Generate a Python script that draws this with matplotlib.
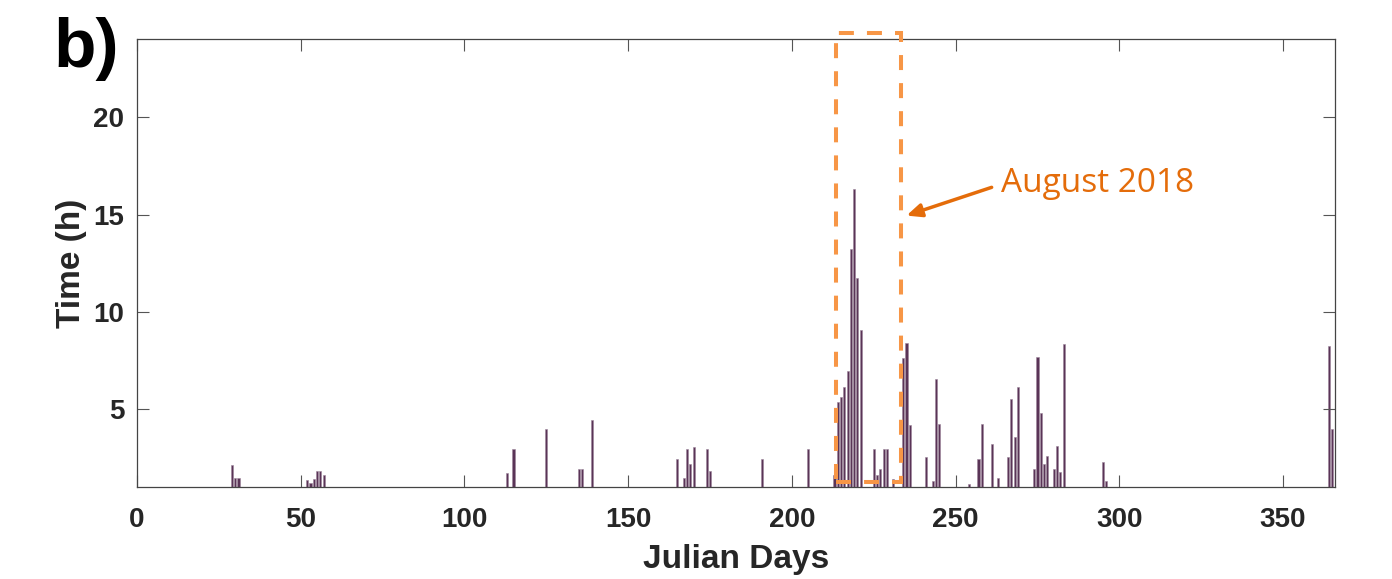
import matplotlib
matplotlib.use("Agg")
import matplotlib.pyplot as plt
from matplotlib.patches import Rectangle

days = [29, 30, 31, 52, 53, 54, 55, 56, 57, 113, 115, 125, 135, 136, 139,
        165, 167, 168, 169, 170, 174, 175, 191, 205, 213, 214, 215, 216, 217,
        218, 219, 220, 221, 225, 226, 227, 228, 229, 231, 234, 235, 236, 241,
        243, 244, 245, 254, 257, 258, 261, 263, 266, 267, 268, 269, 274, 275,
        276, 277, 278, 280, 281, 282, 283, 295, 296, 364, 365]
hours = [2.13, 1.46, 1.46, 1.36, 1.22, 1.44, 1.86, 1.82, 1.61, 1.72, 2.97,
         3.97, 1.96, 1.96, 4.46, 2.47, 1.46, 2.97, 2.21, 3.06, 2.97, 1.82,
         2.47, 2.97, 1.61, 5.39, 5.62, 6.13, 6.99, 13.25, 16.34, 11.75, 9.09,
         2.95, 1.61, 1.96, 2.95, 2.95, 1.42, 7.66, 8.40, 4.19, 2.53, 1.30,
         6.56, 4.26, 1.19, 2.47, 4.23, 3.21, 1.46, 2.53, 5.51, 3.56, 6.13,
         1.96, 7.71, 4.83, 2.21, 2.63, 1.92, 3.11, 1.77, 8.35, 2.30, 1.30,
         8.23, 3.97]
x_ticks = [0, 50, 100, 150, 200, 250, 300, 350]
y_ticks = [5, 10, 15, 20]
box_x = [213.5, 233.2]
box_y = [1.27, 24.3]

plt.rcParams['font.family'] = ['Liberation Sans', 'DejaVu Sans']

fig = plt.figure(figsize=(13.92, 5.79), dpi=100)
ax = fig.add_axes([0.0984, 0.1584, 0.9594 - 0.0984, 0.9321 - 0.1584])

ax.bar(days, hours, width=0.65, color='#5a3457', edgecolor='#9c859b',
       linewidth=0.4)

ax.set_xlim(0, 366)
ax.set_ylim(1, 24)
ax.set_xticks(x_ticks)
ax.set_yticks(y_ticks)
ax.tick_params(direction='in', length=8.6, width=0.8, color='#555555',
               labelsize=20, top=True, right=True,
               labelcolor='#262626')
ax.tick_params(axis='x', pad=14)
ax.tick_params(axis='y', pad=9)
for lbl in ax.get_xticklabels() + ax.get_yticklabels():
    lbl.set_fontweight('bold')
for s in ax.spines.values():
    s.set_color('#444444')
    s.set_linewidth(0.9)

ax.set_xlabel('Julian Days', fontsize=24, fontweight='bold', color='#262626',
              labelpad=8)
ax.set_ylabel('Time (h)', fontsize=24, fontweight='bold', color='#262626',
              labelpad=5)

lw = 2.9
rect = Rectangle((box_x[0], box_y[0]), box_x[1] - box_x[0],
                 box_y[1] - box_y[0], fill=False, edgecolor='#f79646',
                 linewidth=lw, linestyle=(0, (10.8 / lw, 9.4 / lw)),
                 clip_on=False, zorder=5)
ax.add_patch(rect)

ax.annotate('', xy=(235.0, 14.95), xytext=(261.0, 16.4),
            arrowprops=dict(arrowstyle='-|>,head_length=0.9,head_width=0.4',
                            color='#e46c0a', lw=2.5, shrinkA=0, shrinkB=0))
ax.text(264.0, 16.6, 'August 2018', fontsize=24, color='#e46c0a',
        family=['Open Sans', 'DejaVu Sans'], va='center', ha='left')

fig.text(0.038, 0.915, 'b)', fontsize=50, fontweight='bold', color='black',
         va='center', ha='left')

fig.savefig('out.png', dpi=100, facecolor='white')
